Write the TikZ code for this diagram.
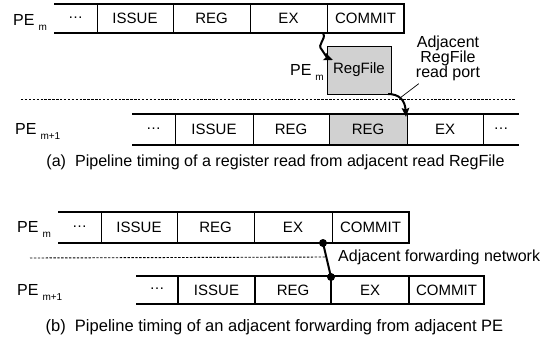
\documentclass[tikz,border=0pt]{standalone}
\usepackage{fontspec}
\setmainfont{Liberation Sans}
\usetikzlibrary{arrows.meta}
\begin{document}
\begin{tikzpicture}[x=1pt,y=-1pt,
  cell/.style={inner sep=0pt, outer sep=0pt, font=\fontsize{15}{17}\selectfont},
  shaded/.style={fill=black!18},
  rowline/.style={line width=2pt, line join=miter},
  divline/.style={line width=0.9pt},
  boldiv/.style={line width=2pt},
  sep/.style={line width=0.9pt, dash pattern=on 2.4pt off 1.5pt},
  lbl/.style={inner sep=0pt, font=\fontsize{16}{15}\selectfont},
  captext/.style={inner sep=0pt},
  arr/.style={line width=2pt, -{Stealth[length=9pt,width=7.5pt,inset=1.5pt]}},
  dotnode/.style={circle, fill=black, inner sep=0pt, minimum size=8pt}
]
\useasboundingbox (0,0) rectangle (551,343);
\newcommand\pelabel[1]{{\fontsize{16}{18}\selectfont PE}\hspace{4pt}\raisebox{-5pt}{\fontsize{10}{12}\selectfont #1}}
\newcommand\dd{\raisebox{2.5pt}{…}}

% ---------- (a) PE_m row ----------
\foreach \n/\c/\w/\t in {a1d/75.5/43/\dd, a1i/135/76/ISSUE, a1r/211.5/77/REG, a1e/288.5/77/EX, a1c/365.5/77/COMMIT}
  \node[cell, minimum width=\w pt, minimum height=29pt] (\n) at (\c,18.5) {\t};
\draw[rowline] (a1d.north west) -- (a1c.north east) -- (a1c.south east) -- (a1d.south west);
\foreach \n in {a1d,a1i,a1r,a1e} \draw[divline] (\n.north east) -- (\n.south east);
\node[anchor=base west, inner sep=0pt] (pa1) at (13,25) {\pelabel{m}};

% ---------- RegFile box ----------
\node[cell, shaded, draw, line width=0.8pt, minimum width=64pt, minimum height=48pt] (rf) at (359,70) {RegFile};
\node[anchor=base east, inner sep=0pt] (prf) at (324,75) {\pelabel{m}};

% ---------- separator (a) ----------
\coordinate (sa1) at (21,99);
\coordinate (sa2) at (515,99);
\draw[sep] (sa1) -- (sa2);

% ---------- (a) PE_m+1 row ----------
\foreach \n/\c/\w/\t/\s in {a2d/153.5/43/\dd/cell, a2i/214/78/ISSUE/cell, a2r/291/76/REG/cell, a2g/368/78/REG/shaded, a2e/445/76/EX/cell, a2f/501/36/\dd/cell}
  \node[cell, \s, minimum width=\w pt, minimum height=31pt] (\n) at (\c,129.5) {\t};
\draw[rowline] (a2d.north west) -- (a2f.north east);
\draw[rowline] (a2d.south west) -- (a2f.south east);
\foreach \n in {a2d,a2i,a2r,a2g,a2e} \draw[divline] (\n.north east) -- (\n.south east);
\node[anchor=base west, inner sep=0pt] (pa2) at (15,134) {\pelabel{m+1}};

% ---------- arrows (a) ----------
\coordinate (s1) at ([xshift=-4pt]a1e.south east);
\coordinate (m1) at (322,50);
\coordinate (t1) at ([xshift=6pt,yshift=-14pt]rf.north west);
\draw[arr] (s1) .. controls (327,40) and (316,44) .. (m1) .. controls (325,55) and (328,58) .. (t1);
\coordinate (s2) at ([xshift=-3pt]rf.south east);
\coordinate (t2) at ([xshift=-1pt,yshift=-3pt]a2g.north east);
\draw[arr] (s2) .. controls (399,94) and (405,100) .. (t2);
\node[lbl, align=center] (rpl) at (448,58) {Adjacent\\RegFile\\read port};
\coordinate (lp) at (400,98);
\draw[line width=0.7pt] ([xshift=3pt,yshift=-3pt]rpl.south west) -- (lp);

\node[captext, font=\fontsize{16.1}{18}\selectfont] (capa) at (275.5,162) {(a)\ \ Pipeline timing of a register read from adjacent read RegFile};

% ---------- (b) PE_m row ----------
\foreach \n/\c/\w/\t in {b1d/79.5/43/\dd, b1i/139/76/ISSUE, b1r/215.5/77/REG, b1e/293/78/EX, b1c/370.5/77/COMMIT}
  \node[cell, minimum width=\w pt, minimum height=31pt] (\n) at (\c,227.5) {\t};
\draw[rowline] (b1d.north west) -- (b1c.north east) -- (b1c.south east) -- (b1d.south west);
\foreach \n in {b1d,b1i,b1r,b1e} \draw[divline] (\n.north east) -- (\n.south east);
\node[anchor=base west, inner sep=0pt] (pb1) at (17,232) {\pelabel{m}};

% ---------- separator (b) ----------
\coordinate (sb1) at (30,258);
\node[lbl, anchor=west] (afn) at (338,257) {Adjacent forwarding network};
\draw[sep] (sb1) -- ([xshift=-12pt]afn.west);

% ---------- (b) PE_m+1 row ----------
\foreach \n/\c/\w/\t in {b2d/157/42/\dd, b2i/216.5/77/ISSUE, b2r/293/76/REG, b2e/370/78/EX, b2c/446.5/75/COMMIT}
  \node[cell, minimum width=\w pt, minimum height=28pt] (\n) at (\c,290) {\t};
\draw[rowline] (b2d.north west) -- (b2c.north east) -- (b2c.south east) -- (b2d.south west);
\foreach \n in {b2d,b2i,b2e} \draw[line width=1.4pt] (\n.north east) -- (\n.south east);
\draw[boldiv] (b2r.north east) -- (b2r.south east);
\node[anchor=base west, inner sep=0pt] (pb2) at (17,295) {\pelabel{m+1}};

% ---------- forwarding link ----------
\node[dotnode] (d1) at ([xshift=-9pt]b1e.south east) {};
\node[dotnode] (d2) at ([yshift=-1pt]b2r.north east) {};
\draw[line width=2pt] (d1.center) -- (d2.center);

\node[captext, font=\fontsize{16.5}{18}\selectfont] (capb) at (274.5,327) {(b)\ \ Pipeline timing of an adjacent forwarding from adjacent PE};
\end{tikzpicture}
\end{document}
